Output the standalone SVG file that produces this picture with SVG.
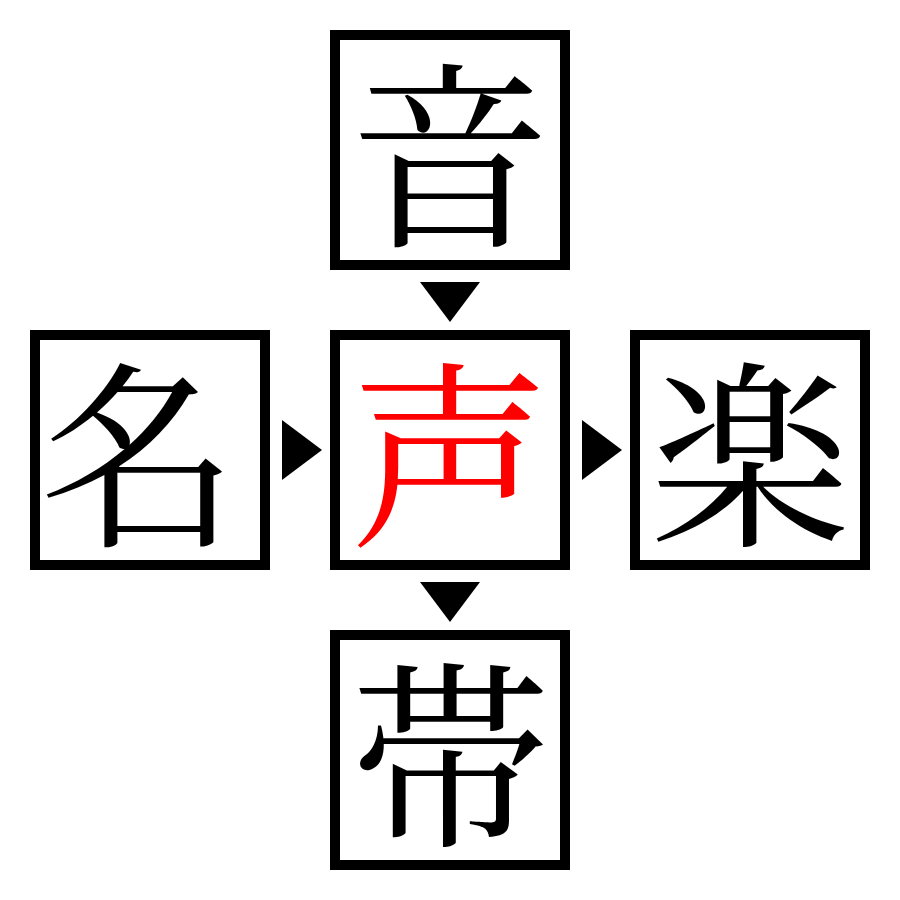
<svg xmlns="http://www.w3.org/2000/svg" width="900" height="900" viewBox="0 0 900 900">
<style>
.b{fill:#fff;stroke:#000;stroke-width:10}
.t{font-family:"Noto Serif CJK JP","Liberation Serif","Noto Sans CJK JP",serif;font-size:200px;text-anchor:middle;dominant-baseline:central}
</style>
<rect width="900" height="900" fill="#fff"/>
<g id="n-top"><rect class="b" x="335" y="35" width="230" height="230"/><text class="t" x="450" y="144">音</text></g>
<g id="n-left"><rect class="b" x="35" y="335" width="230" height="230"/><text class="t" x="140" y="444">名</text></g>
<g id="n-center"><rect class="b" x="335" y="335" width="230" height="230"/><text class="t" x="450" y="444" fill="#f00">声</text></g>
<g id="n-right"><rect class="b" x="635" y="335" width="230" height="230"/><text class="t" x="750" y="444">楽</text></g>
<g id="n-bottom"><rect class="b" x="335" y="635" width="230" height="230"/><text class="t" x="450" y="744">帯</text></g>
<g id="connectors" fill="#000">
<polygon points="420,282 480,282 450,322"/>
<polygon points="282,420 282,480 322,450"/>
<polygon points="582,420 582,480 622,450"/>
<polygon points="420,582 480,582 450,622"/>
</g>
</svg>
